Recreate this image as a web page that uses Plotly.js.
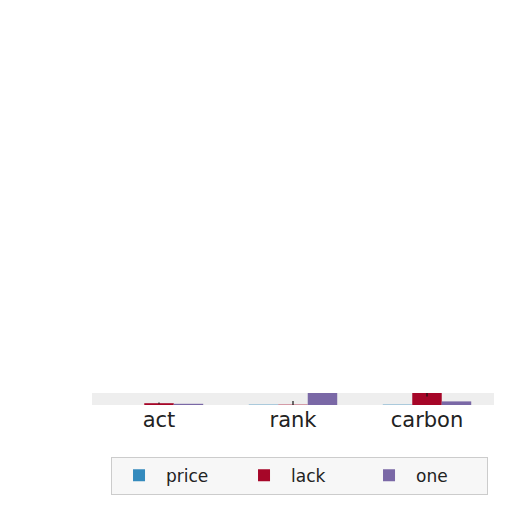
<!DOCTYPE html>
<html>
<head>
<meta charset="utf-8">
<script src="https://cdn.plot.ly/plotly-3.0.1.min.js"></script>
<style>
  html, body { margin: 0; padding: 0; background: #fff; }
  #chart { width: 512px; height: 512px; }
</style>
</head>
<body>
<div id="chart"></div>
<script>
// categories and series
const categories = ["act", "rank", "carbon"];
const seriesNames = ["price", "lack", "one"];
const seriesColors = ["#348ABD", "#A60628", "#7A68A6"];
const priceVals = [0.0, 0.03, 0.03];
const lackVals = [0.15, 0.03, 1.0];
const oneVals = [0.1, 1.0, 0.3];
const lackErr = [0.05, 0.3, 0.3];

const allVals = [priceVals, lackVals, oneVals];

const traces = seriesNames.map((name, i) => {
    const t = {
        type: "bar",
        name: name,
        x: categories,
        y: allVals[i],
        marker: { color: seriesColors[i] }
    };
    if (name === "lack") {
        t.error_y = { type: "data", array: lackErr, color: "#111", thickness: 1.2, width: 0 };
    }
    return t;
});

const layout = {
    width: 512,
    height: 512,
    margin: { l: 92, r: 18, t: 393, b: 107 },
    paper_bgcolor: "#ffffff",
    plot_bgcolor: "#eeeeee",
    barmode: "group",
    bargap: 0.34,
    bargroupgap: 0,
    font: { family: "DejaVu Sans", color: "#222" },
    showlegend: true,
    xaxis: {
        tickfont: { size: 21, color: "#222" },
        showgrid: false,
        zeroline: false,
        ticks: "",
        fixedrange: true
    },
    yaxis: {
        range: [0, 1],
        showticklabels: false,
        showgrid: false,
        zeroline: false,
        fixedrange: true
    },
    legend: {
        orientation: "h",
        xref: "container",
        yref: "container",
        x: 0.585,
        xanchor: "center",
        y: 0.108,
        yanchor: "top",
        bgcolor: "#f7f7f7",
        bordercolor: "#cccccc",
        borderwidth: 1,
        font: { size: 17, color: "#222" },
        itemwidth: 44,
        entrywidth: 66,
        entrywidthmode: "pixels"
    }
};

Plotly.newPlot("chart", traces, layout, { displayModeBar: false, staticPlot: true });
</script>
</body>
</html>
